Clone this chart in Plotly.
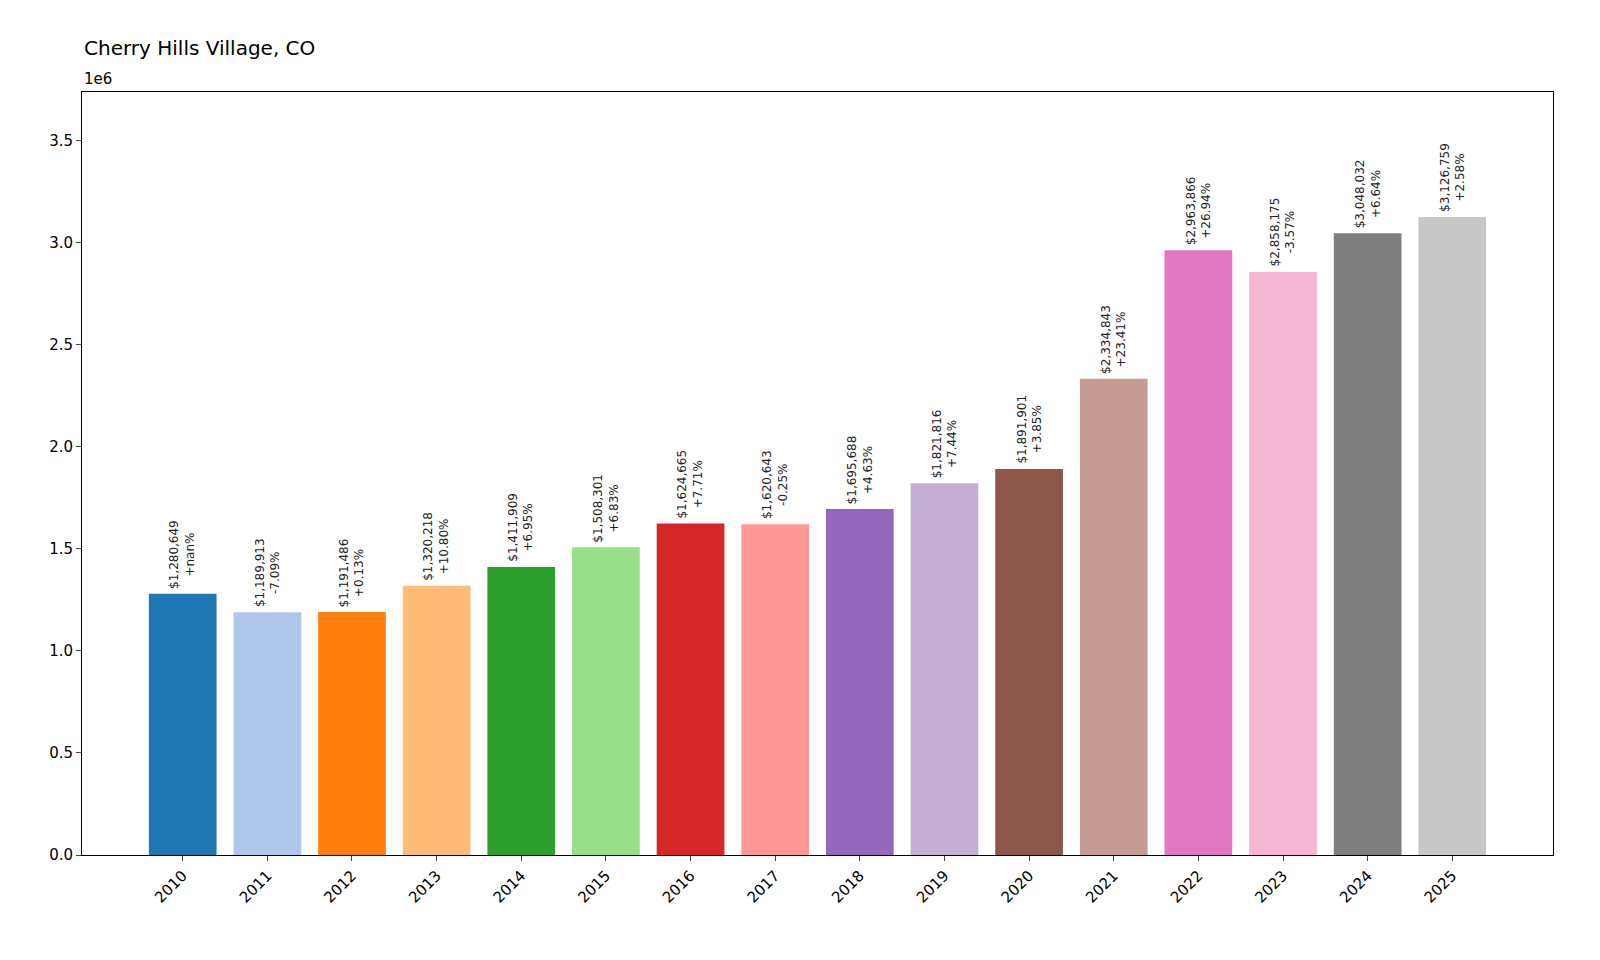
import plotly.graph_objects as go

years = list(range(2010, 2026))
values = [1280649, 1189913, 1191486, 1320218, 1411909, 1508301, 1624665, 1620643,
          1695688, 1821816, 1891901, 2334843, 2963866, 2858175, 3048032, 3126759]
colors = ["#1f77b4", "#aec7e8", "#ff7f0e", "#ffbb78", "#2ca02c", "#98df8a", "#d62728", "#ff9896",
          "#9467bd", "#c5b0d5", "#8c564b", "#c49c94", "#e377c2", "#f7b6d2", "#7f7f7f", "#c7c7c7"]

xs = list(range(len(years)))
ys = [v / 1e6 for v in values]

fig = go.Figure(go.Bar(x=xs, y=ys, marker=dict(color=colors, line=dict(width=0)), width=0.8))

for i, v in enumerate(values):
    pct = "+nan%" if i == 0 else f"{(v / values[i-1] - 1) * 100:+.2f}%"
    fig.add_annotation(x=i, y=v / 1e6, xref="x", yref="y", text=f"${v:,}<br>{pct}",
                       textangle=-90, showarrow=False, yanchor="bottom", yshift=3,
                       font=dict(size=12, color="#222"), align="center")

fig.add_annotation(text="Cherry Hills Village, CO", xref="paper", yref="paper", x=0, y=1,
                   xanchor="left", yanchor="bottom", yshift=30, showarrow=False,
                   font=dict(size=20, color="black"))
fig.add_annotation(text="1e6", xref="paper", yref="paper", x=0, y=1,
                   xanchor="left", yanchor="bottom", yshift=2, showarrow=False,
                   font=dict(size=15, color="black"))

fig.update_layout(
    width=1600, height=960, plot_bgcolor="white", paper_bgcolor="white",
    margin=dict(l=74, r=55, t=84, b=113), showlegend=False,
    font=dict(family="DejaVu Sans", color="black"),
    xaxis=dict(range=[-1.19, 15.79 + 0.4], tickmode="array", tickvals=xs,
               ticktext=[str(y) for y in years], tickangle=-45, ticks="outside",
               ticklen=5, tickfont=dict(size=15), showline=True, linecolor="black",
               mirror=True, showgrid=False, zeroline=False),
    yaxis=dict(range=[0, 3.74], tickvals=[0, 0.5, 1, 1.5, 2, 2.5, 3, 3.5],
               ticktext=["0.0", "0.5", "1.0", "1.5", "2.0", "2.5", "3.0", "3.5"],
               ticks="outside", ticklen=5, tickfont=dict(size=15), showline=True,
               linecolor="black", mirror=True, showgrid=False, zeroline=False),
)
fig.write_html("out.html")
